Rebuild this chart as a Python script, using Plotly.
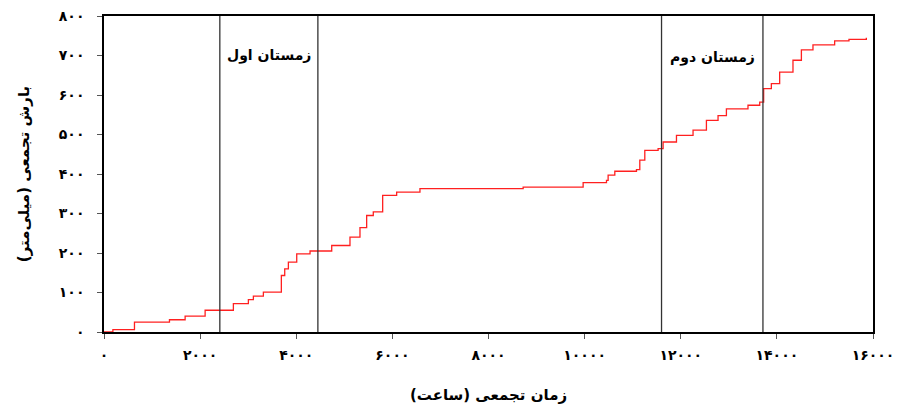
import plotly.graph_objects as go

hours = [0, 185, 634, 1362, 1688, 2104, 2692, 3004, 3108, 3316, 3690, 3760, 3836, 4010,
         4287, 4738, 5118, 5326, 5465, 5603, 5798, 6089, 6574, 8721, 9969, 10455, 10489,
         10628, 11079, 11148, 11252, 11529, 11633, 11911, 12256, 12534, 12776, 12950,
         13399, 13643, 13725, 13885, 14058, 14335, 14510, 14751, 15202, 15500, 15861]
cum_rain = [0, 6, 25, 31, 40, 55, 72, 82, 91, 101, 143, 160, 177, 198,
            205, 219, 240, 264, 295, 304, 346, 354, 363, 367, 378, 384, 397,
            407, 411, 435, 460, 464, 481, 498, 511, 536, 548, 565,
            574, 582, 616, 629, 658, 688, 714, 727, 737, 741, 745]

winter_bounds = [2410, 4450, 11600, 13710]
winter_labels = ["زمستان اول", "زمستان دوم"]
winter_label_x = [3430, 12655]
winter_label_y = [700, 695]

fa = str.maketrans("0123456789", "۰۱۲۳۴۵۶۷۸۹")
x_ticks = list(range(0, 16001, 2000))
y_ticks = list(range(0, 801, 100))
x_tick_text = [str(v).translate(fa) for v in x_ticks]
y_tick_text = [str(v).translate(fa) for v in y_ticks]

fig = go.Figure()
fig.add_trace(go.Scatter(x=hours, y=cum_rain, mode="lines", line_shape="hv",
                         line=dict(color="#ff2020", width=1.3), showlegend=False))

for xb in winter_bounds:
    fig.add_shape(type="line", x0=xb, x1=xb, y0=0, y1=1, xref="x", yref="paper",
                  line=dict(color="#333333", width=1.3))

for t, xv, yv in zip(winter_labels, winter_label_x, winter_label_y):
    fig.add_annotation(x=xv, y=yv, text="<b>" + t + "</b>", showarrow=False,
                       font=dict(family="DejaVu Sans", size=14, color="black"))

font_family = "DejaVu Sans"
fig.update_xaxes(range=[0, 16000], tickvals=x_ticks, ticktext=x_tick_text,
                 ticks="outside", ticklen=5, tickcolor="#555", automargin=False,
                 ticklabeloverflow="allow", ticklabelstandoff=4,
                 showline=True, linecolor="black", linewidth=1.5, mirror=True,
                 showgrid=False, zeroline=False,
                 tickfont=dict(family=font_family, size=14, color="black", weight="bold"),
                 title=dict(text="<b>زمان تجمعی (ساعت)</b>", standoff=28,
                            font=dict(family=font_family, size=15, color="black")))
fig.update_yaxes(range=[0, 800], tickvals=y_ticks, ticktext=y_tick_text,
                 ticks="outside", ticklen=5, tickcolor="#555", automargin=False,
                 ticklabeloverflow="allow", ticklabelstandoff=10,
                 showline=True, linecolor="black", linewidth=1.5, mirror=True,
                 showgrid=False, zeroline=False,
                 tickfont=dict(family=font_family, size=14, color="black", weight="bold"),
                 title=dict(text="<b>بارش تجمعی (میلی‌متر)</b>", standoff=26,
                            font=dict(family=font_family, size=15, color="black")))

fig.update_layout(width=901, height=407, margin=dict(l=96, r=36, t=8, b=83),
                  plot_bgcolor="white", paper_bgcolor="white")

fig.write_html("out.html")
